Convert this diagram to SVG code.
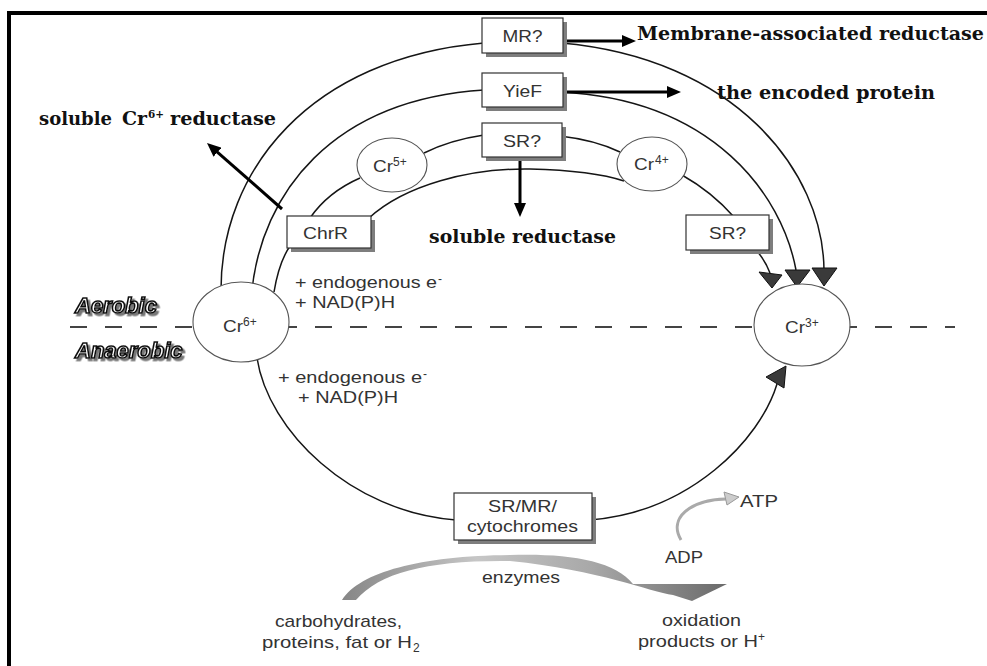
<svg xmlns="http://www.w3.org/2000/svg" width="987" height="666" viewBox="0 0 987 666">
<style>
.arc{fill:none;stroke:#151515;stroke-width:1.5}
.box{fill:#fff;stroke:#333;stroke-width:1.2}
.shd{fill:#7e7e7e}
.ell{fill:#fff;stroke:#555;stroke-width:1.1}
.lbl{font-family:"Liberation Sans",Arial,sans-serif;font-size:17px;fill:#333}
.sup{font-family:"Liberation Sans",Arial,sans-serif;font-size:12px;fill:#333}
.ann{font-family:"DejaVu Serif","Liberation Serif",serif;font-weight:bold;font-size:19px;fill:#111}
.anns{font-family:"DejaVu Serif","Liberation Serif",serif;font-weight:bold;font-size:11px;fill:#111}
.blk{stroke:#000;stroke-width:3;fill:none}
.tri{fill:#3a3a3a;stroke:#111;stroke-width:1}
.ab{font-family:"Liberation Sans",Arial,sans-serif;font-weight:bold;font-style:italic;font-size:22px;fill:#fff;stroke:#111;stroke-width:1.6;filter:url(#ds)}
</style>
<defs>
<marker id="ah" markerUnits="userSpaceOnUse" markerWidth="14" markerHeight="12" refX="4" refY="6" orient="auto">
<path d="M0,0 L14,6 L0,12 Z" fill="#000"/>
</marker>
<linearGradient id="gg" x1="342" y1="0" x2="727" y2="0" gradientUnits="userSpaceOnUse">
<stop offset="0" stop-color="#868686"/>
<stop offset="0.35" stop-color="#c6c6c6"/>
<stop offset="0.65" stop-color="#a8a8a8"/>
<stop offset="1" stop-color="#6a6a6a"/>
</linearGradient>
<filter id="ds" x="-10%" y="-20%" width="130%" height="160%">
<feDropShadow dx="2.5" dy="2.5" stdDeviation="0.4" flood-color="#777" flood-opacity="1"/>
</filter>
</defs>
<rect x="0" y="0" width="987" height="666" fill="#fff"/>
<!-- frame -->
<line x1="9" y1="11" x2="9" y2="666" stroke="#000" stroke-width="4"/>
<line x1="7" y1="13" x2="987" y2="13" stroke="#000" stroke-width="4"/>
<!-- aerobic / anaerobic divider -->
<line x1="70" y1="327" x2="955" y2="327" stroke="#444" stroke-width="2" stroke-dasharray="17 18"/>
<g id="zones">
<text class="ab" x="75" y="313">Aerobic</text>
<text class="ab" x="75" y="358">Anaerobic</text>
</g>
<g id="connectors">
<!-- outer MR arc -->
<path class="arc" d="M221,290 C221,170 310,58 484,43"/>
<path class="arc" d="M561,43 C734,58 823,170 824,270"/>
<!-- YieF arc -->
<path class="arc" d="M252,290 C262,195 330,100 484,90"/>
<path class="arc" d="M561,92 C714,100 782,195 796,270"/>
<!-- ChrR / Cr5+ / SR? / Cr4+ / SR? chain -->
<path class="arc" d="M274,292 Q279,262 290,246"/>
<path class="arc" d="M310,218 Q328,192 360,178"/>
<path class="arc" d="M424,153 Q450,140 484,135"/>
<path class="arc" d="M560,136 Q595,140 620,152"/>
<path class="arc" d="M682,175 Q712,192 734,217"/>
<path class="arc" d="M756,250 Q765,260 770,273"/>
<!-- inner arc ChrR to Cr4+ -->
<path class="arc" d="M369,218 C405,185 470,168 530,169 C570,170 600,173 624,181"/>
<!-- anaerobic arc -->
<path class="arc" d="M257,358 C268,430 350,512 456,520"/>
<path class="arc" d="M590,520 C690,512 760,440 777,384"/>
<!-- arrowheads into Cr3+ -->
<polygon class="tri" points="759,272 782,275 772,288"/>
<polygon class="tri" points="785,270 810,270 797,287"/>
<polygon class="tri" points="812,268 837,268 824,286"/>
<polygon class="tri" points="766,377 786,366 784,388"/>
<!-- energy metabolism arrows -->
<path d="M342,600 C360,572 420,556 510,555 C565,553 615,560 633,584 L727,584 L692,601 L673,595 C650,592 600,570 510,561 C430,560 380,572 356,600 Z" fill="url(#gg)"/>
<path d="M681,540 C668,518 690,500 726,499" fill="none" stroke="#aaa" stroke-width="3"/>
<polygon points="724,492 739,497 727,505" fill="#ccc" stroke="#999" stroke-width="1"/>
<!-- annotation arrows -->
<line class="blk" x1="565" y1="41" x2="626" y2="41" marker-end="url(#ah)"/>
<line class="blk" x1="565" y1="92" x2="671" y2="92" marker-end="url(#ah)"/>
<line class="blk" x1="282" y1="209" x2="214.5" y2="149.6" marker-end="url(#ah)"/>
<line class="blk" x1="520" y1="157" x2="520" y2="207" marker-end="url(#ah)"/>
</g>
<g id="node-mr">
<rect class="shd" x="486" y="22" width="81" height="35"/>
<rect class="box" x="482" y="18" width="81" height="35"/>
<text class="lbl" x="522.5" y="41.5" text-anchor="middle" textLength="40" lengthAdjust="spacingAndGlyphs">MR?</text>
</g>
<g id="node-yief">
<rect class="shd" x="486" y="77" width="81" height="34"/>
<rect class="box" x="482" y="73" width="81" height="34"/>
<text class="lbl" x="522.5" y="97" text-anchor="middle" textLength="39" lengthAdjust="spacingAndGlyphs">YieF</text>
</g>
<g id="node-sr-top">
<rect class="shd" x="486" y="127" width="80" height="34"/>
<rect class="box" x="482" y="123" width="80" height="34"/>
<text class="lbl" x="522" y="147" text-anchor="middle" textLength="38" lengthAdjust="spacingAndGlyphs">SR?</text>
</g>
<g id="node-chrr">
<rect class="shd" x="291" y="220" width="84" height="32"/>
<rect class="box" x="287" y="216" width="84" height="32"/>
<text class="lbl" x="325.5" y="239" text-anchor="middle" textLength="45" lengthAdjust="spacingAndGlyphs">ChrR</text>
</g>
<g id="node-sr-right">
<rect class="shd" x="690" y="219" width="83" height="35"/>
<rect class="box" x="686" y="215" width="83" height="35"/>
<text class="lbl" x="727.5" y="239" text-anchor="middle" textLength="37" lengthAdjust="spacingAndGlyphs">SR?</text>
</g>
<g id="node-srmr">
<rect class="shd" x="458" y="497" width="138" height="47"/>
<rect class="box" x="454" y="493" width="138" height="47"/>
<text class="lbl" x="522.5" y="512" text-anchor="middle" textLength="69" lengthAdjust="spacingAndGlyphs">SR/MR/</text>
<text class="lbl" x="522.5" y="532" text-anchor="middle" textLength="111" lengthAdjust="spacingAndGlyphs">cytochromes</text>
</g>
<g id="node-cr6">
<ellipse class="ell" cx="241" cy="322" rx="48" ry="40"/>
<text class="lbl" x="223" y="332" textLength="20" lengthAdjust="spacingAndGlyphs">Cr</text>
<text class="sup" x="243" y="326">6+</text>
</g>
<g id="node-cr3">
<ellipse class="ell" cx="802" cy="325" rx="48" ry="41"/>
<text class="lbl" x="785" y="333" textLength="20" lengthAdjust="spacingAndGlyphs">Cr</text>
<text class="sup" x="805" y="327">3+</text>
</g>
<g id="node-cr5">
<ellipse class="ell" cx="392" cy="165" rx="35" ry="27"/>
<text class="lbl" x="373" y="172" textLength="20" lengthAdjust="spacingAndGlyphs">Cr</text>
<text class="sup" x="393" y="166">5+</text>
</g>
<g id="node-cr4">
<ellipse class="ell" cx="652" cy="164" rx="35" ry="27"/>
<text class="lbl" x="634" y="170" textLength="20" lengthAdjust="spacingAndGlyphs">Cr</text>
<text class="sup" x="655" y="164">4+</text>
</g>
<g id="cofactors">
<text class="lbl" x="295" y="288" textLength="142" lengthAdjust="spacingAndGlyphs">+ endogenous e</text>
<text class="sup" x="438" y="283">-</text>
<text class="lbl" x="295" y="308" textLength="100" lengthAdjust="spacingAndGlyphs">+ NAD(P)H</text>
<text class="lbl" x="278" y="383" textLength="144" lengthAdjust="spacingAndGlyphs">+ endogenous e</text>
<text class="sup" x="423" y="378">-</text>
<text class="lbl" x="298" y="403" textLength="100" lengthAdjust="spacingAndGlyphs">+ NAD(P)H</text>
</g>
<g id="metabolism">
<text class="lbl" x="482" y="583" textLength="78" lengthAdjust="spacingAndGlyphs">enzymes</text>
<text class="lbl" x="275" y="627" textLength="127" lengthAdjust="spacingAndGlyphs">carbohydrates,</text>
<text class="lbl" x="262" y="648" textLength="150" lengthAdjust="spacingAndGlyphs">proteins, fat or H</text>
<text class="sup" x="413" y="652">2</text>
<text class="lbl" x="662" y="626" textLength="79" lengthAdjust="spacingAndGlyphs">oxidation</text>
<text class="lbl" x="638" y="647" textLength="120" lengthAdjust="spacingAndGlyphs">products or H</text>
<text class="sup" x="758" y="641">+</text>
<text class="lbl" x="740" y="507" textLength="38" lengthAdjust="spacingAndGlyphs">ATP</text>
<text class="lbl" x="665" y="563" textLength="38" lengthAdjust="spacingAndGlyphs">ADP</text>
</g>
<g id="annotations">
<text class="ann" x="637" y="40" textLength="347" lengthAdjust="spacingAndGlyphs">Membrane-associated reductase</text>
<text class="ann" x="717" y="99" textLength="218" lengthAdjust="spacingAndGlyphs">the encoded protein</text>
<text class="ann" x="429" y="243" textLength="187" lengthAdjust="spacingAndGlyphs">soluble reductase</text>
<text class="ann" x="39" y="125" textLength="73" lengthAdjust="spacingAndGlyphs">soluble</text>
<text class="ann" x="122" y="125" textLength="25" lengthAdjust="spacingAndGlyphs">Cr</text>
<text class="anns" x="148" y="118" textLength="16" lengthAdjust="spacingAndGlyphs">6+</text>
<text class="ann" x="170" y="125" textLength="106" lengthAdjust="spacingAndGlyphs">reductase</text>
</g>
</svg>
